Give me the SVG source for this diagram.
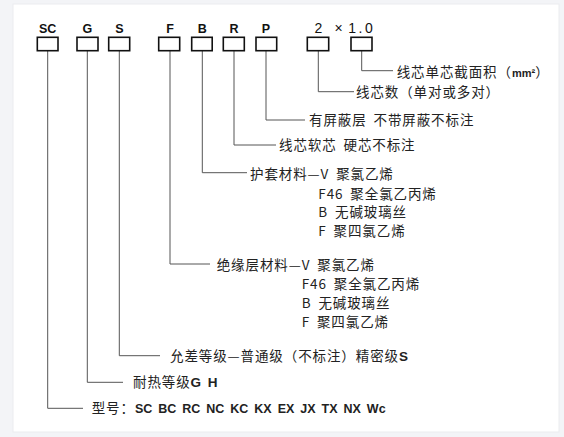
<svg xmlns="http://www.w3.org/2000/svg" width="564" height="437" viewBox="0 0 564 437">
<style>
.hd{font-family:"Liberation Sans",Arial,sans-serif;font-weight:bold;font-size:12.5px;fill:#111;text-anchor:middle}
.num{font-family:"Liberation Sans",Arial,sans-serif;font-size:14px;fill:#111;text-anchor:middle}
.box{fill:#fff;stroke:#111;stroke-width:1.6}
.ln{fill:none;stroke:#555;stroke-width:1}
.t{font-family:"Noto Sans CJK SC","Noto Sans",sans-serif;font-size:13.5px;fill:#222;letter-spacing:0.9px;word-spacing:3px}
.b{font-family:"Liberation Sans",Arial,sans-serif;font-weight:bold}
</style>
<rect x="0" y="0" width="564" height="437" fill="#f3f4f7"/>
<rect x="13" y="4" width="546" height="428" fill="#fff" stroke="#ebecef" stroke-width="1"/>
<g id="connectors">
<path class="ln" d="M47.7 51V408.3H83"/>
<path class="ln" d="M87.3 51V382.3H123"/>
<path class="ln" d="M119.3 51V355.7H160"/>
<path class="ln" d="M170 51V264H210"/>
<path class="ln" d="M202.3 51V172.7H247"/>
<path class="ln" d="M234 51V145H276"/>
<path class="ln" d="M266 51V120H305"/>
<path class="ln" d="M318.3 51V91.7H354"/>
<path class="ln" d="M361.7 51V70.7H393"/>
</g>
<g id="n-sc"><rect class="box" x="37.3" y="37.3" width="20.7" height="13.4"/><text class="hd" x="47.7" y="32.5">SC</text></g>
<g id="n-g"><rect class="box" x="77" y="37.3" width="21" height="13.4"/><text class="hd" x="87.3" y="32.5">G</text></g>
<g id="n-s"><rect class="box" x="108.7" y="37.3" width="21" height="13.4"/><text class="hd" x="119.3" y="32.5">S</text></g>
<g id="n-f"><rect class="box" x="158.7" y="37.3" width="21" height="13.4"/><text class="hd" x="170" y="32.5">F</text></g>
<g id="n-b"><rect class="box" x="191.7" y="37.3" width="20.5" height="13.4"/><text class="hd" x="202.3" y="32.5">B</text></g>
<g id="n-r"><rect class="box" x="223.3" y="37.3" width="21" height="13.4"/><text class="hd" x="234" y="32.5">R</text></g>
<g id="n-p"><rect class="box" x="256" y="37.3" width="20.7" height="13.4"/><text class="hd" x="266" y="32.5">P</text></g>
<g id="n-2"><rect class="box" x="307.3" y="37.3" width="21.4" height="13.4"/><text class="num" x="318.3" y="32.5">2</text><text class="num" x="338.5" y="32.5">×</text></g>
<g id="n-10"><rect class="box" x="351" y="37.3" width="21" height="13.4"/><text class="num" x="361.7" y="32.5" letter-spacing="2.5">1.0</text></g>
<g id="labels">
<text class="t" x="396.7" y="77">线芯单芯截面积（<tspan class="b" font-size="11" letter-spacing="0">mm²</tspan>）</text>
<text class="t" x="356" y="97">线芯数（单对或多对）</text>
<text class="t" x="309" y="125.3">有屏蔽层 不带屏蔽不标注</text>
<text class="t" x="279" y="150.3">线芯软芯 硬芯不标注</text>
<text class="t" x="250" y="178.6">护套材料—V 聚氯乙烯</text>
<text class="t" x="318.3" y="198.6">F46 聚全氯乙丙烯</text>
<text class="t" x="318.3" y="217">B 无碱玻璃丝</text>
<text class="t" x="318.3" y="236.3">F 聚四氯乙烯</text>
<text class="t" x="216.7" y="270.3">绝缘层材料—V 聚氯乙烯</text>
<text class="t" x="301.7" y="289">F46 聚全氯乙丙烯</text>
<text class="t" x="301.7" y="308">B 无碱玻璃丝</text>
<text class="t" x="301.7" y="326.6">F 聚四氯乙烯</text>
<text class="t" x="170" y="360.6">允差等级—普通级（不标注）精密级<tspan class="b">S</tspan></text>
<text class="t" x="133" y="387">耐热等级<tspan class="b" letter-spacing="0">G H</tspan></text>
<text class="t" x="91.7" y="412.8">型号：<tspan class="b" font-size="12.5" letter-spacing="0" word-spacing="2.5">SC BC RC NC KC KX EX JX TX NX Wc</tspan></text>
</g>
</svg>
